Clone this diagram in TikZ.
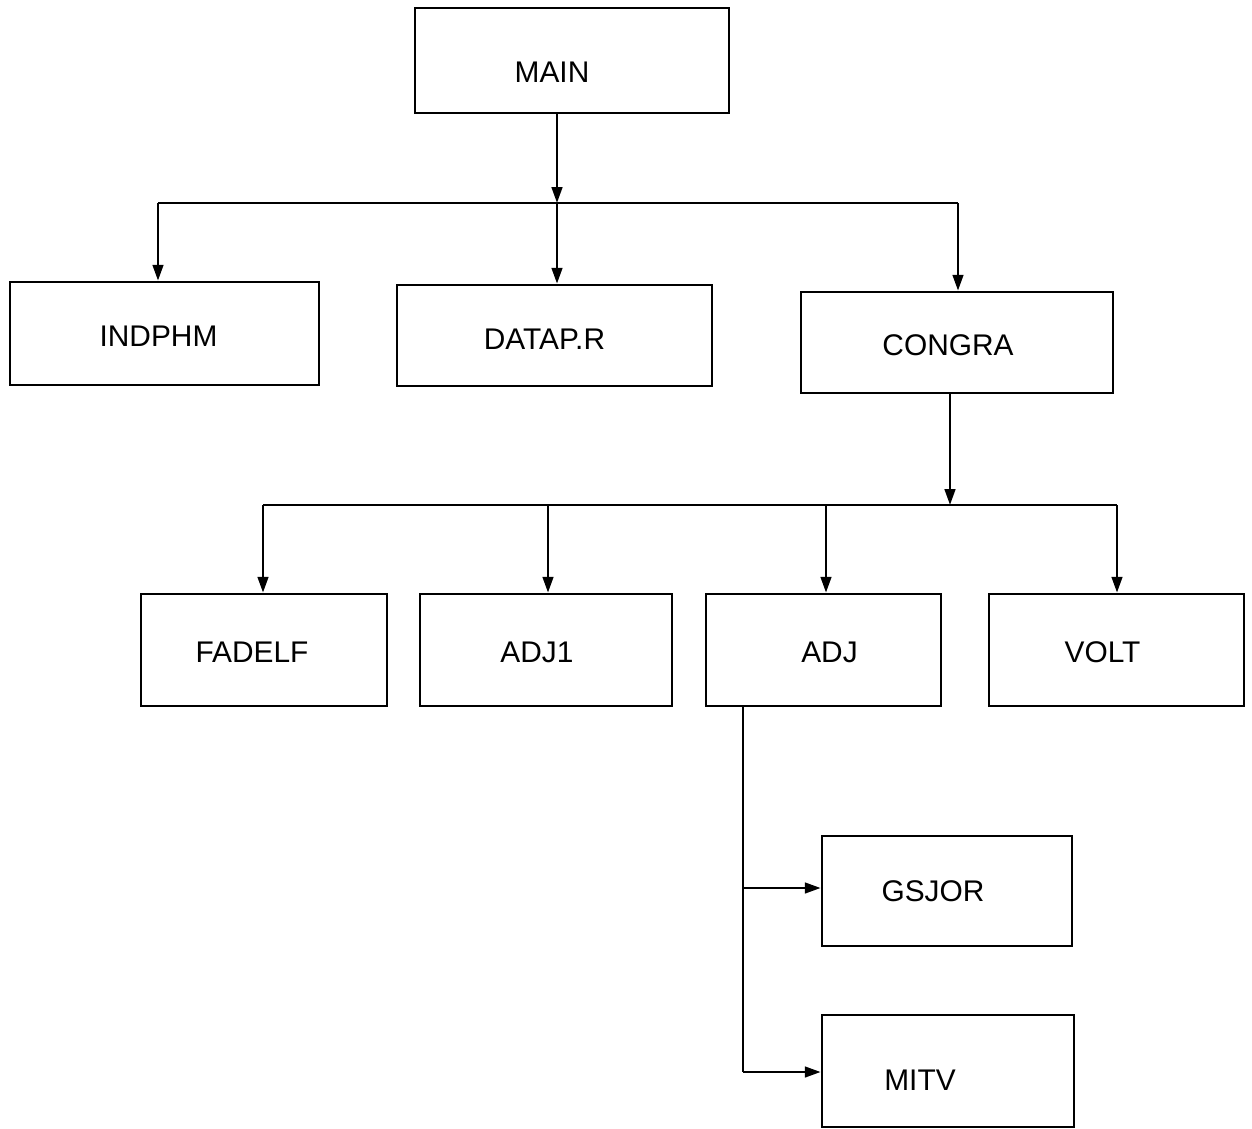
\documentclass[tikz,border=0pt]{standalone}
\usepackage{fontspec}
\setmainfont{Liberation Sans}
\usetikzlibrary{arrows.meta}
\begin{document}
\begin{tikzpicture}[x=0.02cm,y=-0.02cm,
  box/.style={draw,line width=1.5pt,inner sep=0pt},
  lbl/.style={font=\fontsize{17}{20}\selectfont,inner sep=0pt},
  wire/.style={line width=1.5pt},
  arr/.style={line width=1.5pt,-{Triangle[length=9pt,width=6pt]}}]
\fill[white] (0,0) rectangle (1252,1129);
\useasboundingbox (0,0) rectangle (1252,1129);
% boxes
\node[box,minimum width=6.28cm,minimum height=2.1cm,
  label={[lbl,xshift=-0.4cm,yshift=-0.24cm]center:MAIN}] (main) at (572,60.5) {};
\node[box,minimum width=6.18cm,minimum height=2.06cm,
  label={[lbl,xshift=-0.12cm,yshift=-0.06cm]center:INDPHM}] (indphm) at (164.5,333.5) {};
\node[box,minimum width=6.3cm,minimum height=2.02cm,
  label={[lbl,xshift=-0.2cm,yshift=-0.08cm]center:DATAP.R}] (datapr) at (554.5,335.5) {};
\node[box,minimum width=6.24cm,minimum height=2.02cm,
  label={[lbl,xshift=-0.18cm,yshift=-0.06cm]center:CONGRA}] (congra) at (957,342.5) {};
\node[box,minimum width=4.92cm,minimum height=2.24cm,
  label={[lbl,xshift=-0.24cm,yshift=-0.04cm]center:FADELF}] (fadelf) at (264,650) {};
\node[box,minimum width=5.04cm,minimum height=2.24cm,
  label={[lbl,xshift=-0.18cm,yshift=-0.04cm]center:ADJ1}] (adj1) at (546,650) {};
\node[box,minimum width=4.7cm,minimum height=2.24cm,
  label={[lbl,xshift=0.12cm,yshift=-0.04cm]center:ADJ}] (adj) at (823.5,650) {};
\node[box,minimum width=5.1cm,minimum height=2.24cm,
  label={[lbl,xshift=-0.28cm,yshift=-0.04cm]center:VOLT}] (volt) at (1116.5,650) {};
\node[box,minimum width=5.0cm,minimum height=2.2cm,
  label={[lbl,xshift=-0.28cm,yshift=0cm]center:GSJOR}] (gsjor) at (947,891) {};
\node[box,minimum width=5.04cm,minimum height=2.24cm,
  label={[lbl,xshift=-0.56cm,yshift=-0.18cm]center:MITV}] (mitv) at (948,1071) {};
% first level bus
\coordinate (b1) at (557,203);
\coordinate (b1l) at (158,203);
\coordinate (b1r) at (958,203);
\draw[arr] (main.south -| b1) -- (b1);
\draw[wire] (b1l) -- (b1r);
\draw[arr] (b1l) -- (indphm.north -| b1l);
\draw[arr] (b1) -- (datapr.north -| b1);
\draw[arr] (b1r) -- (congra.north -| b1r);
% second level bus
\coordinate (b2) at (950,505);
\coordinate (b2l) at (263,505);
\coordinate (b2r) at (1117,505);
\draw[arr] (congra.south -| b2) -- (b2);
\draw[wire] (b2l) -- (b2r);
\draw[arr] (b2l) -- (fadelf.north -| b2l);
\coordinate (b2a) at (548,505);
\coordinate (b2b) at (826,505);
\draw[arr] (b2a) -- (adj1.north -| b2a);
\draw[arr] (b2b) -- (adj.north -| b2b);
\draw[arr] (b2r) -- (volt.north -| b2r);
% ADJ children
\coordinate (v) at (743,706);
\coordinate (vg) at (743,888);
\coordinate (vm) at (743,1072);
\draw[wire] (adj.south -| v) -- (vm);
\draw[arr] (vg) -- (gsjor.west |- vg);
\draw[arr] (vm) -- (mitv.west |- vm);
\end{tikzpicture}
\end{document}
